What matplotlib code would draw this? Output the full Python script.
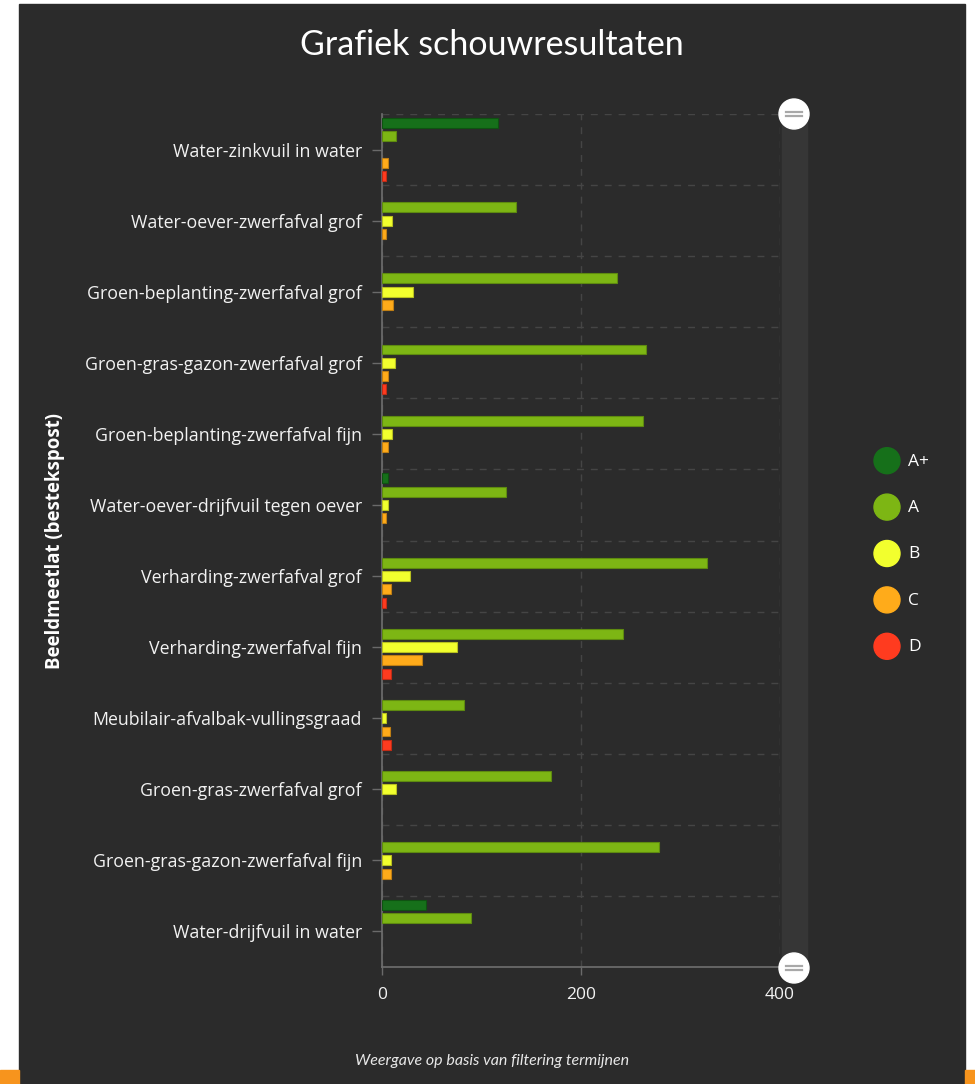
import matplotlib.pyplot as plt
from matplotlib.patches import Rectangle, Circle
import numpy as np

plt.rcParams['font.family'] = ['Open Sans', 'DejaVu Sans']

categories = [
    "Water-zinkvuil in water",
    "Water-oever-zwerfafval grof",
    "Groen-beplanting-zwerfafval grof",
    "Groen-gras-gazon-zwerfafval grof",
    "Groen-beplanting-zwerfafval fijn",
    "Water-oever-drijfvuil tegen oever",
    "Verharding-zwerfafval grof",
    "Verharding-zwerfafval fijn",
    "Meubilair-afvalbak-vullingsgraad",
    "Groen-gras-zwerfafval grof",
    "Groen-gras-gazon-zwerfafval fijn",
    "Water-drijfvuil in water",
]
grades = ['A+', 'A', 'B', 'C', 'D']
aplus = [117, 0, 0, 0, 0, 6, 0, 0, 0, 0, 0, 45]
a = [14, 135, 236, 266, 263, 125, 327, 243, 83, 170, 279, 90]
b = [0, 10, 31, 13, 10, 6, 28, 76, 4, 14, 9, 0]
c = [6, 4, 11, 6, 6, 4, 9, 41, 8, 0, 9, 0]
d = [4, 0, 0, 4, 0, 0, 4, 9, 9, 0, 0, 0]
series = [aplus, a, b, c, d]

faces = ['#16701a', '#7db614', '#f2ff2e', '#ffab1a', '#ff3b1f']
edges = ['#0f5212', '#5e8a10', '#b8c020', '#c07f14', '#c02c17']

bg = '#2b2b2b'
W, H = 975, 1084
fig = plt.figure(figsize=(W / 100, H / 100), dpi=100, facecolor='white')

# dark panel + orange strips (behind everything)
fig.patches.append(Rectangle((19 / W, 0), (965 - 19) / W, 1 - 4 / H,
                             transform=fig.transFigure, color=bg, zorder=-2))
fig.patches.append(Rectangle((0, 0), 19 / W, 14 / H, transform=fig.transFigure,
                             color='#f7941d', zorder=-2))
fig.patches.append(Rectangle((965 / W, 0), 10 / W, 14 / H, transform=fig.transFigure,
                             color='#f7941d', zorder=-2))

ax = fig.add_axes([381.7 / W, 1 - 967 / H, 398 / W, 853 / H])
ax.set_facecolor(bg)

n = len(categories)
ypos = np.arange(n)
slot = 0.187
for j, vals in enumerate(series):
    vals = np.array(vals)
    m = vals > 0
    ax.barh(ypos[m] + (j - 2) * slot, vals[m], height=0.14,
            color=faces[j], edgecolor=edges[j], linewidth=0.8, zorder=3)

ax.set_xlim(0, 400)
ax.set_ylim(n - 0.5, -0.5)
ax.set_xticks([0, 200, 400])
ax.set_yticks(ypos)
ax.set_yticklabels(categories)
ax.set_yticks(np.arange(-0.5, n - 0.5, 1), minor=True)
ax.tick_params(axis='y', which='minor', length=0)
ax.tick_params(axis='y', which='major', length=7.2, width=1, color='#6a6a6a',
               labelcolor='#f2f2f2', labelsize=12.8, pad=7)
ax.tick_params(axis='x', length=5.8, width=1, color='#6a6a6a',
               labelcolor='#f2f2f2', labelsize=12.5, pad=8.5)
ax.grid(axis='y', which='minor', color='#454545', linestyle=(0, (5, 5)), linewidth=1)
ax.xaxis.grid(True, color='#454545', linestyle=(0, (5, 5)), linewidth=1)
ax.set_axisbelow(True)
for s in ['top', 'right']:
    ax.spines[s].set_visible(False)
for s in ['left', 'bottom']:
    ax.spines[s].set_color('#6f6f6f')
    ax.spines[s].set_linewidth(1.2)

fig.text(492 / W, 1 - 45 / H, 'Grafiek schouwresultaten', color='white',
         fontsize=24.5, ha='center', va='center', family=['Lato', 'DejaVu Sans'])
fig.text(55 / W, 1 - 541 / H, 'Beeldmeetlat (bestekspost)', color='white',
         fontsize=13.4, fontweight='bold', rotation=90, ha='center', va='center')
fig.text(492 / W, 1 - 1061 / H, 'Weergave op basis van filtering termijnen',
         color='#e8e8e8', fontsize=11.5, style='italic', ha='center', va='center',
         family=['Lato', 'DejaVu Sans'])

# overlay in pixel coords: scrollbar and legend
ov = fig.add_axes([0, 0, 1, 1], zorder=5)
ov.set_xlim(0, W)
ov.set_ylim(H, 0)
ov.axis('off')
ov.patch.set_alpha(0)
ov.add_patch(Rectangle((781.7, 114), 25, 853, color='#363636', zorder=1))
for yc in [114, 968]:
    ov.add_patch(Circle((794, yc), 15, color='white', zorder=2))
    ov.plot([786, 802], [yc - 2.2, yc - 2.2], color='#a8a8a8', lw=1.6, zorder=3)
    ov.plot([786, 802], [yc + 2.2, yc + 2.2], color='#a8a8a8', lw=1.6, zorder=3)

for j, g in enumerate(grades):
    yc = 460.7 + j * 46.4
    ov.add_patch(Circle((887, yc), 13, color=faces[j], zorder=2))
    ov.text(908, yc + 1, g, color='white', fontsize=12.5, ha='left', va='center')

fig.savefig('out.png', dpi=100, facecolor='white')
